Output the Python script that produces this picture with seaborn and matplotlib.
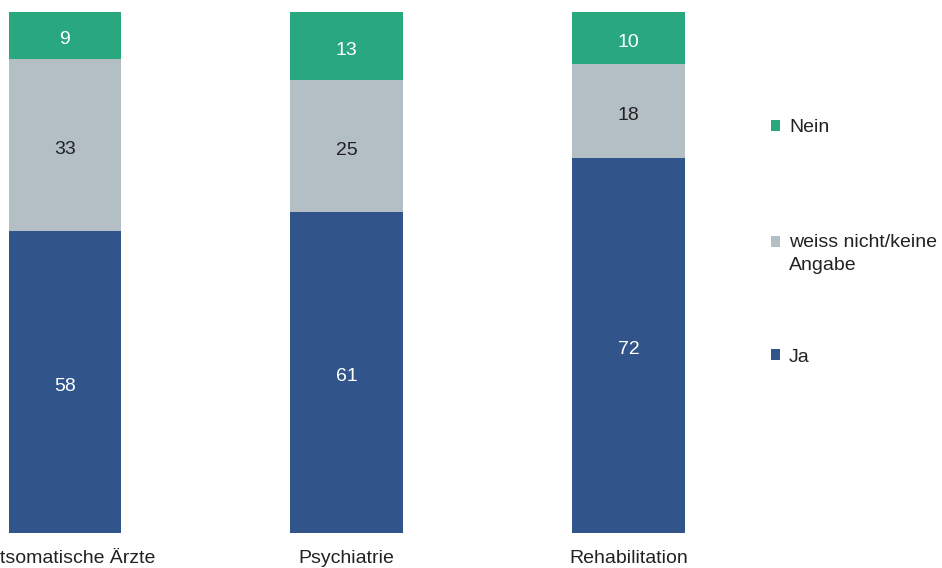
import matplotlib
matplotlib.use("Agg")
import matplotlib.pyplot as plt
from matplotlib.patches import Patch
from matplotlib.transforms import ScaledTranslation
import pandas as pd
import seaborn as sns

categories = ["tsomatische Ärzte", "Psychiatrie", "Rehabilitation"]
ja = [58, 61, 72]
weiss = [33, 25, 18]
nein = [9, 13, 10]

series_names = ["Ja", "weiss nicht/keine\nAngabe", "Nein"]
colors = ["#31558a", "#b4bec5", "#29a87f"]
text_colors = ["white", "#222222", "white"]

df = pd.DataFrame({"cat": categories, "Ja": ja, "weiss": weiss, "Nein": nein})
# bars are shown as shares of 100% (rounded values may not sum to 100)
total = df["Ja"] + df["weiss"] + df["Nein"]
df["s_ja"] = df["Ja"] / total * 100
df["s_weiss"] = df["s_ja"] + df["weiss"] / total * 100
df["s_nein"] = df["s_weiss"] + df["Nein"] / total * 100

sns.set_style("white")
plt.rcParams["font.family"] = ["Liberation Sans", "DejaVu Sans"]
FS = 14

fig = plt.figure(figsize=(9.42, 5.68), dpi=100)
ax = fig.add_axes([8.65 / 942, 35 / 568, 676.2 / 942, 521 / 568])

# stacked bars: draw cumulative totals from top to bottom
sns.barplot(data=df, x="cat", y="s_nein", color=colors[2], width=0.4, ax=ax,
            saturation=1, linewidth=0)
sns.barplot(data=df, x="cat", y="s_weiss", color=colors[1], width=0.4, ax=ax,
            saturation=1, linewidth=0)
sns.barplot(data=df, x="cat", y="s_ja", color=colors[0], width=0.4, ax=ax,
            saturation=1, linewidth=0)

# value labels in the middle of each segment
for i in range(len(categories)):
    lows = [0, df["s_ja"][i], df["s_weiss"][i]]
    highs = [df["s_ja"][i], df["s_weiss"][i], df["s_nein"][i]]
    vals = [df["Ja"][i], df["weiss"][i], df["Nein"][i]]
    for lo, hi, v, tc in zip(lows, highs, vals, text_colors):
        ax.annotate(str(v), (i, (lo + hi) / 2), xytext=(0, -1.8),
                    textcoords="offset points", ha="center",
                    va="center_baseline", color=tc, fontsize=FS)

ax.set_xlim(-0.2, 2.2)
ax.set_ylim(0, 100)
ax.set_xlabel("")
ax.set_ylabel("")
ax.set_yticks([])
ax.tick_params(axis="x", length=0, pad=12, labelsize=FS, labelcolor="#222222")
sns.despine(ax=ax, left=True, bottom=True)

# the first label is cut at the left edge in the original; keep its visible part flush left
lbl = ax.get_xticklabels()[0]
lbl.set_ha("left")
lbl.set_transform(lbl.get_transform() + ScaledTranslation(-0.655, 0, fig.dpi_scale_trans))

# legend entries placed one by one (Nein, weiss nicht/keine Angabe, Ja)
legend_y = [357, 254, 128]
for name, c, y in zip(series_names, colors, legend_y):
    leg = fig.legend([Patch(facecolor=c, edgecolor="none")], [name],
                     loc="center left", bbox_to_anchor=(753.5 / 942, 1 - y / 568),
                     frameon=False, fontsize=FS, handlelength=0.46,
                     handleheight=0.46, handletextpad=0.46, labelcolor="#222222")
    for t in leg.get_texts():
        t.set_linespacing(1.5)
        t.set_multialignment("left")
    if "\n" in name:
        h = leg.legend_handles[0]
        h.set_y(h.get_y() + 8.6)

fig.savefig("out.png", dpi=100)
